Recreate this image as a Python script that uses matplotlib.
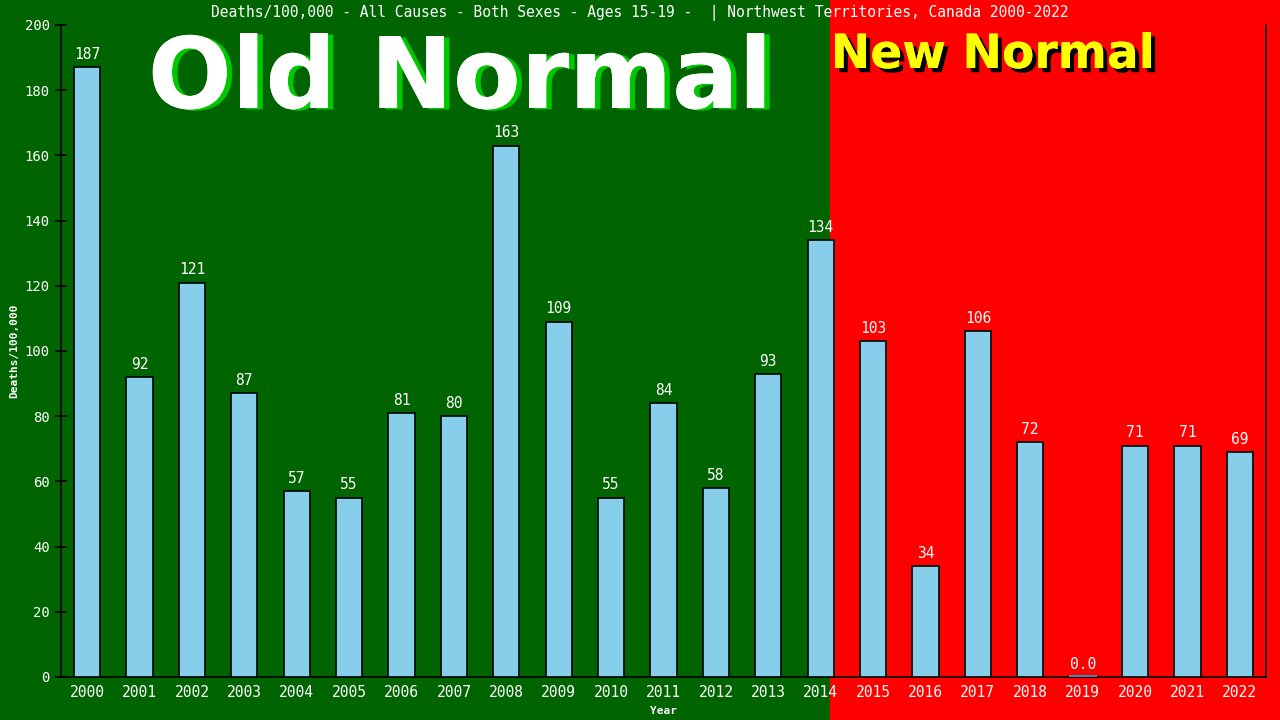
import matplotlib
matplotlib.use("Agg")
import matplotlib.pyplot as plt
import matplotlib.patheffects as pe
import numpy as np

years = [str(y) for y in range(2000, 2023)]
values = [187, 92, 121, 87, 57, 55, 81, 80, 163, 109, 55, 84, 58, 93, 134,
          103, 34, 106, 72, 0, 71, 71, 69]
labels = ["187", "92", "121", "87", "57", "55", "81", "80", "163", "109", "55",
          "84", "58", "93", "134", "103", "34", "106", "72", "0.0", "71", "71", "69"]
title = "Deaths/100,000 - All Causes - Both Sexes - Ages 15-19 -  | Northwest Territories, Canada 2000-2022"

GREEN = "#006400"
RED = "#FF0000"
BAR = "#87CEEB"

fig = plt.figure(figsize=(12.8, 7.2), dpi=100)
fig.patches.append(plt.Rectangle((0, 0), 830/1280, 1, transform=fig.transFigure, color=GREEN, zorder=-10))
fig.patches.append(plt.Rectangle((830/1280, 0), 1 - 830/1280, 1, transform=fig.transFigure, color=RED, zorder=-10))

ax = fig.add_axes([61/1280, 43/720, 1205/1280, 652/720])
ax.set_facecolor("none")
x = np.arange(len(years))
ax.bar(x, values, width=0.5, color=BAR, edgecolor="black", linewidth=1.2, zorder=3)
for i, v in enumerate(values):
    if v == 0:
        ax.plot([i - 0.25, i + 0.25], [0.3, 0.3], color="#4682B4", lw=1.5, zorder=4)
    ax.text(i, v + 1.6, labels[i], ha="center", va="bottom", color="white",
            fontsize=10.5, family="DejaVu Sans Mono", zorder=5)

ax.set_xlim(-0.5, len(years) - 0.5)
ax.set_ylim(0, 200)
ax.set_yticks(range(0, 201, 20))
ax.set_xticks(x)
ax.set_xticklabels(years)
ax.spines["top"].set_visible(False)
for s in ["left", "right", "bottom"]:
    ax.spines[s].set_color("black")
    ax.spines[s].set_linewidth(1.2)
ax.tick_params(axis="y", labelcolor="white", labelsize=10, length=8, direction="inout",
               color="black", width=1.2, pad=4)
ax.tick_params(axis="x", labelcolor="white", labelsize=10.5, length=0, pad=6)
for lab in ax.get_xticklabels() + ax.get_yticklabels():
    lab.set_family("DejaVu Sans Mono")
ax.set_ylabel("Deaths/100,000", color="white", fontsize=8, fontweight="bold",
              family="DejaVu Sans Mono", labelpad=4)
ax.set_xlabel("Year", color="white", fontsize=8, fontweight="bold",
              family="DejaVu Sans Mono", labelpad=4)

fig.text(0.5, 1 - 13/720, title, ha="center", va="center", color="white",
         fontsize=10.5, family="DejaVu Sans Mono")

fig.text(460/1280, 1 - 108/720, "Old Normal", ha="center", va="baseline", color="white",
         fontsize=71, fontweight="bold", family="DejaVu Sans",
         path_effects=[pe.withSimplePatchShadow(offset=(4, -1), shadow_rgbFace="#00C800", alpha=1.0), pe.Normal()])
fig.text(993/1280, 1 - 68/720, "New Normal", ha="center", va="baseline", color="yellow",
         fontsize=34, fontweight="bold", family="DejaVu Sans",
         path_effects=[pe.withSimplePatchShadow(offset=(3, -3), shadow_rgbFace="black", alpha=1.0), pe.Normal()])

fig.savefig("out.png", dpi=100)
